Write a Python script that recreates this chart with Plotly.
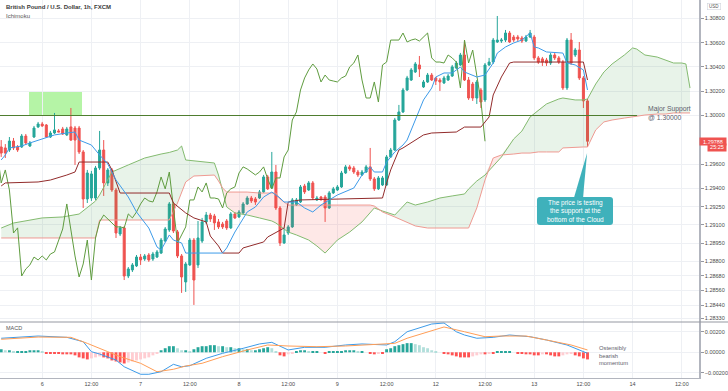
import plotly.graph_objects as go

# ---------------- data ----------------
bar_idx = list(range(-10, 134))   # hourly bars, 0 = 6 Oct 00:00

open_ = [1.29741,1.29733,1.29716,1.29790,1.29741,1.29741,1.29831,1.29749,1.29823,1.29906,
         1.29930,1.29922,1.29823,1.29856,1.29873,1.29889,1.29840,1.29906,1.29897,1.29897,
         1.29700,1.29313,1.29321,1.29321,1.29568,1.29716,1.29445,1.29552,1.29387,1.29025,
         1.29075,1.28679,1.28729,1.28762,1.28835,1.28819,1.28852,1.28819,1.28835,1.28868,
         1.28967,1.29058,1.29272,1.29042,1.28844,1.28630,1.28770,1.28975,1.28770,1.28967,
         1.29124,1.29181,1.29173,1.29124,1.29107,1.29132,1.29075,1.29190,1.29165,1.29198,
         1.29272,1.29321,1.29313,1.29321,1.29371,1.29494,1.29404,1.29535,1.29239,1.28951,
         1.29033,1.29083,1.29264,1.29288,1.29420,1.29387,1.29445,1.29305,1.29329,1.29329,
         1.29239,1.29363,1.29387,1.29412,1.29527,1.29577,1.29568,1.29535,1.29511,1.29535,
         1.29577,1.29478,1.29396,1.29428,1.29428,1.29659,1.29716,1.29963,1.30029,1.30210,
         1.30292,1.30358,1.30416,1.30235,1.30276,1.30333,1.30309,1.30292,1.30268,1.30292,
         1.30325,1.30391,1.30416,1.30498,1.30292,1.30259,1.30144,1.30210,1.30128,1.30416,
         1.30440,1.30605,1.30613,1.30621,1.30679,1.30646,1.30646,1.30638,1.30613,1.30646,
         1.30646,1.30474,1.30466,1.30457,1.30432,1.30498,1.30474,1.30440,1.30227,1.30621,
         1.30498,1.30539,1.30309,1.30120]
high_ = [1.29798,1.29765,1.29823,1.29815,1.29757,1.29848,1.29848,1.29790,1.29914,1.29947,
         1.29947,1.29930,1.29873,1.30021,1.29889,1.29906,1.29906,1.30062,1.29914,1.29914,
         1.29716,1.29552,1.29544,1.29585,1.29873,1.29798,1.29568,1.29568,1.29404,1.29091,
         1.29091,1.28753,1.28786,1.28852,1.28860,1.28860,1.28868,1.28877,1.28893,1.28992,
         1.29082,1.29288,1.29288,1.29058,1.28860,1.28794,1.28992,1.28992,1.29132,1.29157,
         1.29206,1.29198,1.29190,1.29148,1.29124,1.29148,1.29206,1.29206,1.29222,1.29288,
         1.29338,1.29338,1.29329,1.29387,1.29511,1.29511,1.29700,1.29593,1.29255,1.29075,
         1.29099,1.29321,1.29321,1.29428,1.29437,1.29461,1.29461,1.29338,1.29338,1.29346,
         1.29379,1.29412,1.29428,1.29544,1.29593,1.29593,1.29585,1.29552,1.29552,1.29593,
         1.29733,1.29494,1.29502,1.29502,1.29675,1.29733,1.29980,1.30087,1.30227,1.30326,
         1.30391,1.30440,1.30490,1.30292,1.30350,1.30350,1.30317,1.30309,1.30326,1.30342,
         1.30416,1.30449,1.30515,1.30621,1.30317,1.30276,1.30292,1.30227,1.30432,1.30474,
         1.30638,1.30819,1.30638,1.30704,1.30696,1.30663,1.30663,1.30655,1.30663,1.30704,
         1.30663,1.30490,1.30482,1.30474,1.30515,1.30515,1.30490,1.30457,1.30638,1.30679,
         1.30556,1.30605,1.30325,1.30136]
low_ = [1.29659,1.29650,1.29700,1.29716,1.29700,1.29733,1.29757,1.29741,1.29815,1.29897,
        1.29906,1.29815,1.29815,1.29848,1.29864,1.29840,1.29831,1.29790,1.29593,1.29683,
        1.29239,1.29280,1.29297,1.29305,1.29552,1.29338,1.29420,1.29371,1.28992,1.29008,
        1.28646,1.28662,1.28712,1.28753,1.28770,1.28803,1.28795,1.28803,1.28827,1.28860,
        1.28959,1.29042,1.29033,1.28827,1.28540,1.28548,1.28762,1.28441,1.28745,1.28951,
        1.29107,1.29124,1.29058,1.29066,1.29066,1.29058,1.29066,1.29148,1.29157,1.29190,
        1.29264,1.29280,1.29264,1.29313,1.29363,1.29387,1.29396,1.29222,1.28926,1.28943,
        1.29017,1.29075,1.29255,1.29280,1.29354,1.29379,1.29305,1.29297,1.29297,1.29124,
        1.29231,1.29354,1.29379,1.29404,1.29519,1.29544,1.29519,1.29494,1.29502,1.29527,
        1.29461,1.29379,1.29387,1.29420,1.29420,1.29650,1.29708,1.29955,1.30021,1.30202,
        1.30284,1.30350,1.30317,1.30227,1.30268,1.30284,1.30251,1.30202,1.30259,1.30284,
        1.30317,1.30383,1.30408,1.30284,1.30128,1.30120,1.30095,1.30062,1.30111,1.30408,
        1.30424,1.30597,1.30597,1.30605,1.30597,1.30605,1.30613,1.30597,1.30605,1.30638,
        1.30457,1.30424,1.30408,1.30408,1.30416,1.30457,1.30424,1.30210,1.30210,1.30416,
        1.30482,1.30292,1.30062,1.29741]
close_ = [1.29691,1.29691,1.29790,1.29733,1.29716,1.29831,1.29774,1.29774,1.29897,1.29930,
          1.29914,1.29823,1.29856,1.29881,1.29864,1.29848,1.29889,1.29798,1.29798,1.29700,
          1.29313,1.29527,1.29519,1.29568,1.29716,1.29445,1.29552,1.29387,1.29033,1.29075,
          1.28679,1.28737,1.28770,1.28835,1.28811,1.28844,1.28811,1.28860,1.28877,1.28975,
          1.29066,1.29272,1.29050,1.28844,1.28671,1.28778,1.28975,1.28646,1.28992,1.29124,
          1.29181,1.29148,1.29116,1.29083,1.29083,1.29075,1.29190,1.29157,1.29206,1.29272,
          1.29321,1.29297,1.29288,1.29371,1.29494,1.29396,1.29535,1.29239,1.28951,1.29017,
          1.29083,1.29305,1.29305,1.29412,1.29371,1.29445,1.29321,1.29321,1.29313,1.29239,
          1.29363,1.29396,1.29412,1.29527,1.29577,1.29560,1.29535,1.29511,1.29535,1.29577,
          1.29478,1.29396,1.29486,1.29486,1.29659,1.29716,1.29963,1.30029,1.30210,1.30309,
          1.30375,1.30424,1.30383,1.30276,1.30333,1.30292,1.30284,1.30276,1.30309,1.30325,
          1.30400,1.30432,1.30498,1.30292,1.30144,1.30144,1.30276,1.30111,1.30416,1.30440,
          1.30621,1.30621,1.30621,1.30679,1.30605,1.30621,1.30630,1.30613,1.30646,1.30679,
          1.30474,1.30440,1.30440,1.30432,1.30498,1.30474,1.30440,1.30227,1.30621,1.30432,
          1.30539,1.30309,1.30120,1.29788]

# Ichimoku lines (values read at the bars where the lines bend)
tenkan_idx = [-10,-9,-8,-5,-3,0,3,6,8,9,12,14,16,18,21,23,26,28,29,31,32,34,35,44,45,47,50,52,54,56,
              58,59,62,64,66,68,70,72,76,78,80,81,83,84,86,88,89,91,93,95,96,98,100,102,103,106,108,
              110,111,113,115,117,118,119,120,121,123,127,128,130,132,133]
tenkan_val = [1.29634,1.29675,1.29733,1.29749,1.29774,1.29807,1.29840,1.29856,1.29864,1.29798,
              1.29757,1.29675,1.29601,1.29469,1.29329,1.29206,1.29074,1.28918,1.28893,1.29017,
              1.28975,1.28951,1.28868,1.28868,1.28910,1.29041,1.29206,1.29247,1.29329,1.29370,
              1.29321,1.29288,1.29288,1.29239,1.29206,1.29263,1.29305,1.29346,1.29403,1.29510,
              1.29576,1.29535,1.29535,1.29617,1.29700,1.29757,1.29798,1.29963,1.30128,1.30226,
              1.30317,1.30350,1.30350,1.30399,1.30358,1.30317,1.30333,1.30432,1.30514,1.30564,
              1.30597,1.30621,1.30654,1.30679,1.30564,1.30556,1.30523,1.30514,1.30432,1.30416,
              1.30375,1.30210]
kijun_idx = [-10,-9,-1,2,6,8,9,16,17,19,31,32,35,37,40,41,43,44,48,49,54,55,59,60,63,83,84,85,86,87,
             88,91,93,95,101,103,107,109,110,112,114,115,132,133]
kijun_val = [1.29420,1.29445,1.29453,1.29469,1.29510,1.29535,1.29617,1.29617,1.29552,1.29362,
             1.29362,1.29280,1.29198,1.29157,1.29124,1.29008,1.28926,1.28868,1.28868,1.28910,
             1.28959,1.29000,1.29074,1.29288,1.29305,1.29321,1.29445,1.29552,1.29634,1.29716,
             1.29733,1.29798,1.29840,1.29856,1.29864,1.29905,1.29905,1.29988,1.30169,1.30317,
             1.30432,1.30440,1.30440,1.30292]
span_idx = [-10,-7,0,5,9,11,13,14,17,21,25,29,31,33,34,35,37,40,42,43,44,45,47,50,53,56,57,58,60,62,
            65,67,69,72,75,78,80,81,83,86,89,91,94,97,100,103,104,106,108,110,112,115,117,119,121,123,
            126,127,130,132,133,135,137,139,142,144,145,147,150,152,154,156,157,158]
span_a = [1.29074,1.29115,1.29157,1.29165,1.29189,1.29239,1.29296,1.29346,1.29535,1.29593,
          1.29650,1.29683,1.29696,1.29716,1.29749,1.29634,1.29626,1.29617,1.29609,1.29510,
          1.29387,1.29247,1.29198,1.29181,1.29157,1.29132,1.29115,1.29091,1.29041,1.29017,
          1.28975,1.28926,1.28868,1.28975,1.29041,1.29124,1.29198,1.29239,1.29214,1.29181,
          1.29288,1.29263,1.29288,1.29321,1.29338,1.29354,1.29395,1.29461,1.29510,1.29584,
          1.29658,1.29807,1.29872,1.29988,1.30045,1.30095,1.30136,1.30144,1.30128,1.30128,
          1.30136,1.30259,1.30358,1.30424,1.30498,1.30556,1.30547,1.30498,1.30481,1.30457,
          1.30432,1.30432,1.30424,1.30226]
span_b = [1.28992,1.28992,1.28992,1.28992,1.28992,1.28992,1.28992,1.29140,1.29140,1.29140,
          1.29140,1.29140,1.29140,1.29280,1.29362,1.29453,1.29502,1.29510,1.29510,1.29461,
          1.29403,1.29370,1.29370,1.29370,1.29362,1.29362,1.29362,1.29313,1.29263,1.29263,
          1.29263,1.29263,1.29263,1.29263,1.29263,1.29263,1.29263,1.29255,1.29206,1.29165,
          1.29124,1.29091,1.29074,1.29074,1.29074,1.29074,1.29074,1.29239,1.29469,1.29650,
          1.29675,1.29683,1.29691,1.29691,1.29700,1.29700,1.29700,1.29733,1.29741,1.29741,
          1.29741,1.29881,1.29947,1.29963,1.29979,1.29988,1.29996,1.30004,1.30012,1.30012,
          1.30021,1.30021,1.30021,1.30021]

# MACD (12,26,9)
macd_idx = [-10,-1,6,10,12,14,18,20,24,26,29,32,34,36,40,44,49,53,56,58,60,64,69,74,78,84,86,89,95,98,
            101,103,106,110,114,119,123,128,131,133]
macd_val = [0.00138,0.00160,0.00147,0.00104,0.00006,-0.00017,-0.00076,-0.00142,-0.00216,-0.00216,
            -0.00191,-0.00118,-0.00142,-0.00132,-0.00059,-0.00010,0.00039,0.00082,0.00098,0.00062,
            0.00023,0.00049,0.00049,0.00072,0.00082,0.00072,0.00104,0.00202,0.00278,0.00288,
            0.00202,0.00170,0.00138,0.00147,0.00170,0.00153,0.00121,0.00072,0.00023,-0.00010]
signal_idx = [-10,-1,7,11,16,19,24,28,32,35,39,44,50,55,60,67,74,80,86,89,94,98,103,108,112,118,123,129,133]
signal_val = [0.00128,0.00150,0.00147,0.00088,0.00006,-0.00043,-0.00108,-0.00191,-0.00167,-0.00135,
              -0.00108,-0.00043,0.00023,0.00072,0.00062,0.00055,0.00062,0.00072,0.00088,0.00138,
              0.00202,0.00249,0.00202,0.00153,0.00160,0.00160,0.00121,0.00072,0.00023]
hist_val = [0.0003,0.0002,0.0002,0.0001,0.0001,0.0001,0.0001,0.0002,0.0002,0.0002,0.0001,
            -0.0001,-0.0001,-0.0001,-0.0001,-0.0002,-0.0002,-0.0002,
            -0.0003,-0.0005,-0.0006,-0.0007,-0.0006,
            -0.0005,-0.0004,-0.0005,
            -0.0006,-0.0008,-0.0009,-0.0010,-0.0011,-0.0010,
            -0.0009,-0.0008,-0.0007,-0.0006,-0.0005,-0.0003,-0.0001,
            0.0002,0.0004,0.0006,0.0006,
            0.0004,0.0002,0.0002,0.0001,
            0.0003,0.0005,0.0006,0.0006,0.0007,0.0007,0.0006,
            0.0006,0.0005,0.0005,0.0004,0.0004,0.0003,0.0003,0.0002,0.0002,
            0.0003,0.0004,0.0005,0.0004,
            0.0001,
            -0.0003,-0.0004,-0.0002,-0.0001,
            0.0001,0.0002,0.0002,0.0001,0.0001,0.0001,0.0,
            -0.0001,0.0001,0.0001,0.0001,
            0.0001,0.0002,0.0002,0.0002,0.0001,0.0001,0.0,
            -0.0001,-0.0002,-0.0001,-0.0001,
            0.0003,0.0004,0.0006,0.0007,0.0008,0.0009,0.0009,0.0008,
            0.0007,0.0005,0.0004,0.0002,0.0001,0.0,
            -0.0001,-0.0002,-0.0003,-0.0004,-0.0005,-0.0005,-0.0005,-0.0004,-0.0003,-0.0002,
            -0.0002,-0.0001,-0.0001,
            0.0001,0.0001,0.0001,0.0001,0.0,-0.0001,
            -0.0001,-0.0002,-0.0002,-0.0003,-0.0003,-0.0002,-0.0002,-0.0003,-0.0004,
            -0.0004,-0.0003,-0.0002,-0.0001,
            -0.0003,-0.0004,-0.0006,-0.0007]

tick_idx = [0, 12, 24, 36, 48, 60, 72, 84, 96, 108, 120, 132, 144, 156]
tick_text = ["6", "12:00", "7", "12:00", "8", "12:00", "9", "12:00", "12", "12:00", "13", "12:00", "14", "12:00"]
price_ticks = [1.308, 1.306, 1.304, 1.302, 1.300, 1.296, 1.294, 1.2925, 1.291, 1.2895, 1.288,
               1.2868, 1.2856, 1.2844, 1.2833]
macd_ticks = [0.002, 0.0, -0.002]
macd_tick_text = ["0.00200", "0.00000", "\u22120.00200"]
support_level = 1.30000
last_price = 1.29788
chikou_shift = 25

# ---------------- styling ----------------
FONT = "Liberation Sans, Arial, sans-serif"
GREEN, RED = "#26a69a", "#ef5350"
GRID = "#eef0f4"
AXIS = "#b2b5be"

fig = go.Figure()

# cloud fill: green where A above B, red where B above A
cloud_top = [max(a, b) for a, b in zip(span_a, span_b)]
fig.add_trace(go.Scatter(x=span_idx, y=span_b, mode="lines", line=dict(width=0), hoverinfo="skip"))
fig.add_trace(go.Scatter(x=span_idx, y=cloud_top, mode="lines", line=dict(width=0), fill="tonexty",
                         fillcolor="rgba(67,160,71,0.12)", hoverinfo="skip"))
fig.add_trace(go.Scatter(x=span_idx, y=span_a, mode="lines", line=dict(width=0), hoverinfo="skip"))
fig.add_trace(go.Scatter(x=span_idx, y=cloud_top, mode="lines", line=dict(width=0), fill="tonexty",
                         fillcolor="rgba(244,67,54,0.12)", hoverinfo="skip"))
fig.add_trace(go.Scatter(x=span_idx, y=span_a, mode="lines", line=dict(color="#84bb70", width=1)))
fig.add_trace(go.Scatter(x=span_idx, y=span_b, mode="lines", line=dict(color="#ef9a92", width=1)))
# lagging span
fig.add_trace(go.Scatter(x=[i - chikou_shift for i in bar_idx], y=close_, mode="lines",
                         line=dict(color="#5f9c3f", width=1)))
# candles
fig.add_trace(go.Candlestick(x=bar_idx, open=open_, high=high_, low=low_, close=close_,
                             increasing=dict(line=dict(color=GREEN, width=1), fillcolor=GREEN),
                             decreasing=dict(line=dict(color=RED, width=1), fillcolor=RED),
                             whiskerwidth=0, hoverinfo="skip"))
fig.add_trace(go.Scatter(x=kijun_idx, y=kijun_val, mode="lines", line=dict(color="#922b2b", width=1)))
fig.add_trace(go.Scatter(x=tenkan_idx, y=tenkan_val, mode="lines", line=dict(color="#3d9be9", width=1)))

# MACD pane
hist_colors = []
for k, v in enumerate(hist_val):
    prev = hist_val[k - 1] if k > 0 else 0
    if v >= 0:
        hist_colors.append("#26a69a" if v >= prev else "#b2dfdb")
    else:
        hist_colors.append("#ff5252" if v <= prev else "#ffcdd2")
fig.add_trace(go.Bar(x=bar_idx, y=hist_val, marker=dict(color=hist_colors, line=dict(width=0)),
                     width=0.7, yaxis="y2"))
fig.add_trace(go.Scatter(x=macd_idx, y=macd_val, mode="lines", line=dict(color="#3d9be9", width=1), yaxis="y2"))
fig.add_trace(go.Scatter(x=signal_idx, y=signal_val, mode="lines", line=dict(color="#ff9e57", width=1), yaxis="y2"))

split = 56 / 378.0
fig.update_layout(
    width=728, height=391,
    margin=dict(l=0, r=29, t=0, b=13),
    paper_bgcolor="white", plot_bgcolor="white",
    showlegend=False, hovermode=False,
    font=dict(family=FONT, size=6, color="#4a4a4a"),
    xaxis=dict(range=[-10.293, 160.195], anchor="y2", tickmode="array", tickvals=tick_idx,
               ticktext=tick_text, showgrid=True, gridcolor=GRID, gridwidth=1, zeroline=False,
               showline=True, linecolor=AXIS, linewidth=1, ticks="", tickfont=dict(size=5.5, color="#4a4a4a"),
               rangeslider=dict(visible=False)),
    yaxis=dict(domain=[split, 1], range=[1.283005, 1.309506], side="right", tickmode="array",
               tickvals=price_ticks, ticktext=["%.5f" % v for v in price_ticks],
               showgrid=True, gridcolor=GRID, zeroline=False, showline=True, linecolor=AXIS, linewidth=1.5,
               ticks="outside", ticklen=3, tickcolor="#9598a1", tickfont=dict(size=5.5, color="#4a4a4a")),
    yaxis2=dict(domain=[0, split], range=[-0.002526, 0.002978], side="right", tickmode="array",
                tickvals=macd_ticks, ticktext=macd_tick_text, showgrid=True, gridcolor=GRID,
                zeroline=False, showline=True, linecolor=AXIS, linewidth=1.5, anchor="x",
                ticks="outside", ticklen=3, tickcolor="#9598a1", tickfont=dict(size=5.5, color="#4a4a4a")),
)

# drawings
shapes = []
shapes.append(dict(type="rect", xref="x", yref="y", x0=-3.22, x1=9.71, y0=1.30005, y1=1.30193,
                   fillcolor="#b5f4a6", line=dict(width=0), layer="below"))
shapes.append(dict(type="line", xref="x", yref="y", x0=-10.3, x1=145.1, y0=support_level, y1=support_level,
                   line=dict(color="#4f7d2f", width=1.2)))
shapes.append(dict(type="line", xref="paper", yref="paper", x0=0, x1=1.042, y0=split, y1=split,
                   line=dict(color="#9598a1", width=1)))
# callout bubble
bx0, bx1, by0, by1, rx, ry = 120.68, 139.22, 1.29099, 1.29329, 0.75, 0.00025
path = (f"M {bx0+rx},{by1} L {bx1-rx},{by1} Q {bx1},{by1} {bx1},{by1-ry} L {bx1},{by0+ry} "
        f"Q {bx1},{by0} {bx1-rx},{by0} L {bx0+rx},{by0} Q {bx0},{by0} {bx0},{by0+ry} "
        f"L {bx0},{by1-ry} Q {bx0},{by1} {bx0+rx},{by1} Z")
shapes.append(dict(type="path", xref="x", yref="y", path=path, fillcolor="#3fb1bb",
                   line=dict(width=0), layer="above"))
shapes.append(dict(type="path", xref="x", yref="y",
                   path=f"M 129.7,{by1-0.00005} L 132.9,1.29691 L 131.9,{by1-0.00005} Z",
                   fillcolor="#3fb1bb", line=dict(width=0), layer="above"))
fig.update_layout(shapes=shapes)

ann = []
ann.append(dict(xref="paper", yref="paper", x=3.5 / 699, y=1 - 7 / 378.0, xanchor="left", yanchor="middle",
                text="<b>British Pound / U.S. Dollar, 1h, FXCM</b>", showarrow=False,
                font=dict(size=6, color="#3a3a3a")))
ann.append(dict(xref="paper", yref="paper", x=3.5 / 699, y=1 - 15.5 / 378.0, xanchor="left", yanchor="middle",
                text="Ichimoku", showarrow=False, font=dict(size=6, color="#555")))
ann.append(dict(xref="paper", yref="paper", x=3.5 / 699, y=1 - 328 / 378.0, xanchor="left", yanchor="middle",
                text="MACD", showarrow=False, font=dict(size=5.5, color="#555")))
ann.append(dict(xref="x", yref="y", x=147.3, y=1.30018, xanchor="left", yanchor="middle",
                text="Major Support<br>@ 1.30000", showarrow=False, align="left",
                font=dict(size=6.8, color="#5d606b")))
ann.append(dict(xref="x", yref="y", x=129.95, y=1.29214, xanchor="center", yanchor="middle",
                text="The price is testing<br>the support at the<br>bottom of the Cloud", showarrow=False,
                font=dict(size=6.5, color="white")))
ann.append(dict(xref="x", yref="y2", x=135.3, y=-0.00036, xanchor="left", yanchor="middle",
                text="Ostensibly<br>bearish<br>momentum", showarrow=False, align="left",
                font=dict(size=5.8, color="#5d606b")))
ann.append(dict(xref="paper", yref="y", x=1.0, y=last_price, xanchor="left", yanchor="middle",
                text="%.5f" % last_price, showarrow=False, bgcolor=RED, width=26, height=7, borderpad=0,
                font=dict(size=5.5, color="white")))
ann.append(dict(xref="paper", yref="y", x=1 + 8 / 699, y=1.29733, xanchor="left", yanchor="middle",
                text="25:25", showarrow=False, bgcolor=RED, width=18, height=6.5, borderpad=0,
                font=dict(size=5.5, color="white")))
ann.append(dict(xref="paper", yref="paper", x=1 + 14.5 / 699, y=1 - 6.3 / 378.0, xanchor="center",
                yanchor="middle", text="USD", showarrow=False, bordercolor="#d1d4dc", borderwidth=0.6,
                width=13, height=6, borderpad=0, font=dict(size=4.5, color="#555")))
fig.update_layout(annotations=ann)

fig.write_html("out.html", config={"displayModeBar": False},
               post_script="document.body.style.margin='0';document.body.style.padding='0';")
